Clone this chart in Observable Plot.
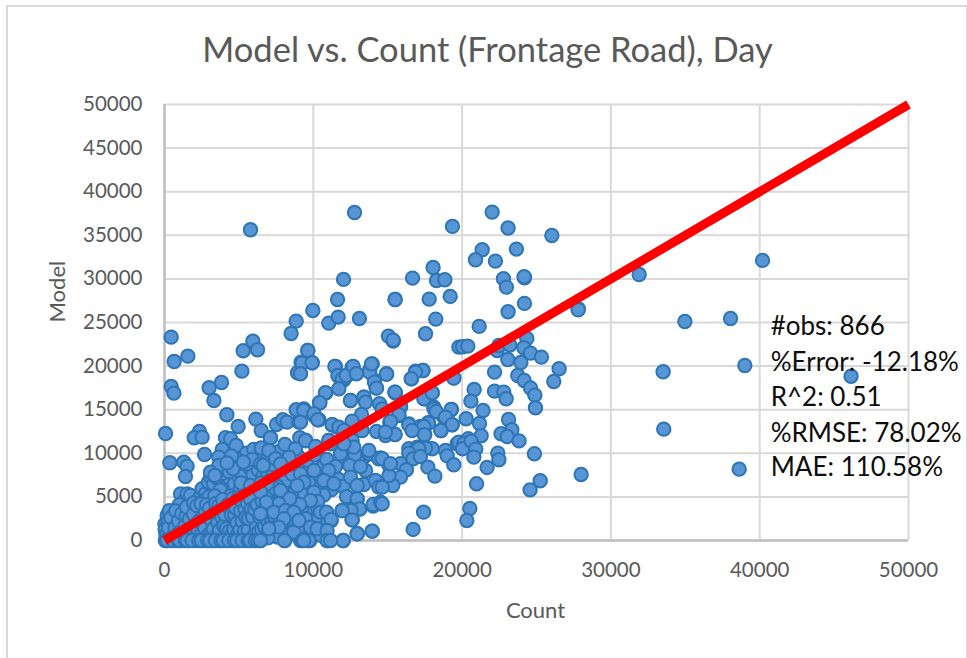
<!DOCTYPE html>
<html><head><meta charset="utf-8">
<script src="https://cdn.jsdelivr.net/npm/d3@7"></script>
<script src="https://cdn.jsdelivr.net/npm/@observablehq/plot@0.6"></script>
<style>
html,body{margin:0;padding:0;background:#fff;overflow:hidden}
#frame{position:absolute;left:6px;top:5px;width:958px;height:660px;border:2px solid #d9d9d9;box-sizing:content-box}
#chart{position:absolute;left:0;top:0}
svg{overflow:visible;display:block}
</style></head><body>
<div id="frame"></div><div id="chart"></div>
<script>
const chartTitle = "Model vs. Count (Frontage Road), Day";
const xLabel = "Count", yLabel = "Model";
const ticksX = [0,10000,20000,30000,40000,50000];
const ticksY = [0,5000,10000,15000,20000,25000,30000,35000,40000,45000,50000];
const stats = ["#obs: 866","%Error: -12.18%","R^2: 0.51","%RMSE: 78.02%","MAE: 110.58%"];
const statY = [24500,20400,16400,12300,8300];
const identity = [0,50000];

// [Count, Model] pairs
const farRight = [[31900,30500],[40190,32120],[34970,25120],[38040,25460],[33510,19350],[39000,20070],[46140,18840],[33550,12770],[38620,8180]];
const upperRight = [[22020,37660],[19350,36020],[23090,35830],[26030,34980],[23650,33420],[21350,33340],[20900,32190],[22240,32040],[16670,30090],[18050,31310],[18280,29820],[18840,29900],[22780,30010],[24190,30130],[24170,30240],[22980,29060],[15500,27640],[17790,27680],[19200,27990],[24190,27190],[23090,26230],[27800,26570],[27800,26460],[18230,25390],[21150,24550],[17540,23710],[15050,23440],[15370,22980],[20030,22220],[20380,22290]];
const middleRight = [[22360,21790],[22470,22370],[23210,22410],[24350,23170],[24150,22100],[24600,21490],[25330,21030],[23070,20760],[23950,20420],[26520,19690],[26160,18240],[23740,18930],[24170,18350],[24600,17480],[24890,16670],[24930,15220],[22180,19310],[20810,17320],[22180,17130],[22800,17020],[22960,16250],[20590,15980],[21410,14910],[23120,13880],[21170,13420],[20270,13960],[19260,15030],[18120,15100],[18260,14800],[18880,14150],[19330,13270],[18570,12620],[17740,13460],[17430,13080],[17470,12120],[16420,13270],[16640,12620],[15500,12160],[21280,12010],[23340,12700],[22620,12240],[23030,11930],[23830,11430],[24860,9940],[22400,10020],[22470,9260],[20410,11660],[20120,11090],[20030,10520],[20610,11400],[20920,10480],[20790,9560],[19000,9710],[19440,8680],[17540,10590],[17090,10520],[16420,10020],[16710,9370],[17200,9640],[17700,8410],[18170,7380],[21680,8380],[20970,6500],[25250,6850],[24570,5810],[28000,7570],[17410,3250],[16710,1270],[20520,3670],[20320,2300],[17430,16250],[17990,16940],[17360,19500],[16870,19310],[16580,18550],[14920,19080],[19440,18620],[15500,17020],[15860,15490],[15750,14420],[15190,13650],[14850,12430],[15080,8610],[15860,8800],[16260,8110],[15860,7270],[15340,6310],[14630,6120],[15080,7460],[14630,4210],[14630,9370],[15190,8800]];
const centre = [[9630,21790],[9250,20340],[9920,20380],[9140,19120],[11450,19960],[11650,18930],[11940,18540],[12210,18930],[12680,19960],[12900,19120],[13780,19310],[13910,20260],[14920,19120],[15370,22860],[19780,22180],[16870,19420],[17380,19500],[16600,18540],[11720,17400],[10820,16940],[10440,15790],[12500,16060],[13400,16440],[13510,15870],[14110,18160],[14250,17470],[15480,17010],[17990,16900],[17540,16250],[18100,15290],[18210,14800],[19290,15030],[18770,14150],[19330,13270],[19440,18660],[14450,15680],[14630,15100],[15860,15290],[15750,14340],[13240,14450],[12610,13690],[9360,14910],[10040,14530],[10300,13840],[9140,13570],[11270,13270],[11720,13000],[12050,12620],[13280,12620],[14250,12500],[15140,13570],[14850,12040],[15480,12160],[16420,13380],[16640,12690],[17720,13500],[17200,13080],[17490,12160],[18590,12620],[19670,11090],[11040,11470],[9480,11470],[10150,10780],[12610,11470],[12720,10710],[12050,11090],[13730,10320],[16420,10520],[16980,10710],[17540,10710],[17990,10520],[18880,10320],[19780,11280]];
const lowerMiddle = [[7120,11780],[7010,10320],[6450,8790],[8090,11010],[9090,11780],[9480,11470],[8800,10510],[8360,9560],[7460,9370],[7800,8790],[6630,8600],[10260,10510],[11040,11470],[11830,9940],[12790,9860],[12390,11470],[13730,9940],[14400,9370],[11040,8030],[9700,6620],[10040,8030],[9140,7650],[9360,6690],[10710,6880],[11380,6500],[8920,6310],[7800,5740],[6900,6500],[6450,5550],[10040,5550],[12450,8600],[13510,8030],[13170,8490],[12500,7270],[13400,6420],[12950,6310],[14180,6880],[14400,6120],[12230,5050],[12950,4780],[14020,4130],[14520,4400],[13100,3630],[12540,3440],[11940,3440],[12610,2370],[10300,4470],[9810,4590],[9090,4130],[8420,4780],[7680,4210],[6850,4400],[6450,3060],[7350,3250],[8130,3440],[8690,3250],[10480,3250],[10890,3250],[11200,2410],[9480,2490],[9810,1530],[10260,1340],[10930,1150],[8690,960],[8020,2490],[7680,1530],[7010,1340],[9030,2300],[12950,770],[13960,1070],[6450,0],[8060,0],[9250,0],[9700,0],[10930,0],[12010,0],[9360,0],[11160,0]];
const middleExtra = [[7300,8700],[7600,6200],[8300,8100],[8600,7600],[9300,8500],[9600,9200],[9950,7200],[10400,6200],[10600,8400],[10900,9300],[11200,5800],[11500,8500],[11700,7000],[12000,6200],[12200,9500],[10100,9800],[9000,9600],[8500,8800],[6900,9700],[7700,10200],[6500,10600],[5900,9300],[5300,9000],[4500,9700],[4200,8900],[7000,5700],[7400,6000],[8300,4000],[8800,5700],[9400,5300],[9700,3800],[9950,4600],[10300,3700],[10600,2300],[10100,2200],[9200,3400],[9000,1300],[8300,600],[7600,400],[6950,300],[10700,5200],[9500,300],[10500,600]];
const upperLeft = [[450,23320],[650,20530],[1570,21140],[450,17670],[630,16900],[70,12270],[360,8910],[1300,8990],[1520,8530],[1410,7340],[2350,12500],[2000,11780],[2530,11850],[2690,9870],[3000,17510],[3830,18120],[3320,16060],[4190,14420],[4950,13080],[5200,19420],[5290,21760],[5940,22860],[6250,21870],[6140,13920],[6500,12620],[7120,11780],[4100,11780],[4440,11660],[4820,10900],[3880,10440],[3650,9560],[3650,8600],[3090,7840],[3380,7460],[5510,10020],[6000,10440],[4880,9290],[5560,8800],[4610,8220],[7010,10250],[8130,10820],[8800,10520],[8130,9940],[7350,9180],[6790,8800],[7530,13310],[7950,13840],[8240,13570],[9030,13570],[8850,14990],[9360,15100],[9970,26380],[8850,25160],[8510,23740],[11040,24930],[11670,25620],[13100,25460],[11630,27640],[15500,27640],[12030,29940],[12770,37620],[5780,35640],[9630,21790],[9180,20460],[9920,20380],[8940,19230],[10820,16900],[10420,15790],[10040,14340],[10370,13840],[11270,13270],[11600,13000],[12500,16060],[13400,16440],[11490,19960],[11720,18810],[12050,18430],[12280,18930],[12610,19880],[13960,20260],[13800,19580],[14920,19080],[14110,18350],[14220,17510],[15520,16900],[9140,11660],[9480,11470],[10260,10520],[11160,11090],[11830,9940],[12840,9940],[13400,9560],[13780,9940],[14520,9480],[11270,7270],[10040,8030],[9700,6580],[9140,6690],[12280,4970],[12950,4710],[14520,4210],[14020,3940],[13130,3600],[12570,3370],[11940,3440],[12610,2370],[11200,2300],[12950,770],[13960,1070]];
const axisRow = [[70,0],[400,0],[740,0],[1190,0],[1640,0],[2080,0],[2640,0],[3200,0],[3650,0],[4100,0],[4550,0],[5000,0],[5440,0],[5890,0],[6450,0],[8090,0],[9140,0],[9590,0],[9770,0],[10930,0],[11040,0],[12010,0],[180,0],[560,0],[900,0],[1020,0],[1400,0],[1520,0],[1860,0],[2300,0],[2480,0],[2900,0],[3050,0],[3420,0],[3800,0],[3960,0],[4320,0],[4700,0],[4860,0],[5220,0],[5620,0],[5740,0],[6100,0],[6280,0]];
const dense = [[60,0],[120,130],[200,420],[90,760],[350,1050],[30,1900],[180,2870],[320,3420],[40,1300],[520,1700],[740,2490],[610,620],[820,1180],[980,300],[1050,1720],[1180,2650],[1300,2100],[1420,1250],[1500,480],[1620,3100],[1700,4020],[1080,5350],[1190,4300],[1400,4700],[1530,5350],[1750,5180],[1850,3650],[1900,2300],[2000,1530],[2100,820],[2220,3150],[2300,4500],[2410,5010],[2530,5930],[2640,3800],[2750,5350],[2750,580],[2800,2150],[2900,1200],[3010,4250],[3120,3400],[3210,5650],[3300,2500],[3400,6200],[3480,1500],[3560,4700],[3650,3300],[3720,6880],[3800,2100],[3880,5200],[3950,800],[4050,3950],[4130,6100],[4200,4650],[4300,2800],[4380,7100],[4470,1800],[4540,5500],[4620,3500],[4700,6500],[4780,950],[4860,4400],[4930,7500],[5020,2500],[5100,5900],[5180,3200],[5260,1500],[5340,6900],[5420,4900],[5500,600],[5580,3750],[5660,7700],[5740,2100],[5820,5300],[5900,4100],[5980,1200],[6060,6300],[6140,3000],[6220,7100],[6300,4600],[6380,1800],[6440,5800],[2950,6700],[3100,7300],[3300,6500],[3500,7200],[3900,7700],[4050,8200],[4350,7900],[4600,8600],[4950,8300],[5250,7400],[5700,8400],[5950,7600],[6300,8100],[6600,7300],[6750,6700],[6900,7900],[7100,6900],[7350,7600],[7600,7000],[7850,7400],[7100,5100],[6700,5000],[6550,3900],[6900,2800],[7250,3800],[7500,5000],[7800,2700],[8200,5100],[8450,6200],[8700,6500],[8950,7100],[8100,6800],[7400,1800],[8600,1700],[6600,2000],[6200,600],[6700,900],[7200,700],[250,2200],[640,3000],[880,3700],[1000,4100],[1260,3450],[1340,600],[1580,1900],[1780,1000],[2160,2600],[2380,1700],[2480,3450],[2560,1100],[2680,4600],[2860,3000],[2980,5000],[3060,1900],[3240,4400],[3420,3700],[3600,2800],[3740,5800],[3840,1150],[3980,4400],[4120,2200],[4240,3300],[4420,5100],[4560,2500],[4680,4200],[4760,1600],[5060,3900],[5140,6600],[5300,2900],[5480,2000],[5540,5100],[5700,3300],[5780,6300],[5860,1500],[6000,4800],[6100,2300],[6280,5500],[6360,3400],[6480,6600]];
const denseExtra = [[130,700],[270,1450],[430,2600],[470,300],[710,1500],[760,3400],[900,780],[940,2200],[1120,1050],[1160,3100],[1240,220],[1370,1650],[1450,2800],[1480,3850],[1560,1020],[1680,2450],[1720,560],[1810,1450],[1950,3000],[1960,4300],[2040,380],[2140,1850],[2180,4000],[2260,1150],[2330,2250],[2440,620],[2460,4200],[2600,1750],[2620,2900],[2700,1400],[2760,3300],[2830,4100],[2940,650],[3000,2650],[3030,3700],[3150,950],[3170,2250],[3280,1350],[3340,3100],[3380,5100],[3450,4250],[3530,550],[3590,2050],[3660,4000],[3700,1200],[3770,3500],[3850,2700],[3920,4700],[3990,1650],[4040,3000],[4080,520],[4150,1350],[4270,4100],[4340,1050],[4400,3700],[4500,2950],[4510,650],[4590,4800],[4650,1250],[4730,2950],[4800,3700],[4880,2000],[4920,700],[4980,4900],[5080,1250],[5120,3400],[5200,4500],[5230,2200],[5370,1050],[5410,3600],[5470,2650],[5560,4300],[5620,1200],[5660,2500],[5760,4800],[5840,3600],[5920,2700],[6030,600],[6060,3600],[6180,1500],[6240,4100],[6320,1000],[6400,2700],[6520,1300],[6560,4500],[6640,3200],[6720,1600],[6780,3700],[6860,500],[6960,2100],[7020,4100],[7080,1100],[7170,3100],[7220,2300],[7300,4500],[7380,2800],[7460,700],[7560,3400],[7600,1400],[7700,4500],[7760,2200],[7880,3500],[7930,900],[8000,4200],[8100,1800],[8180,3200],[8300,1200],[8380,2300],[8450,4300],[8560,2800],[8650,4200],[8780,2000],[8840,3600],[8920,1400],[9000,5200]];

const points = [...dense,...denseExtra,...axisRow,...upperLeft,...middleExtra,...lowerMiddle,...centre,...middleRight,...upperRight,...farRight];

const textFont = "Lato";
const plot = Plot.plot({
  width:967, height:658,
  marginLeft:164, marginRight:59, marginTop:104, marginBottom:118,
  style:{fontFamily:textFont, background:"transparent"},
  x:{domain:[0,50000]}, y:{domain:[0,50000]},
  marks:[
    Plot.gridX(ticksX,{stroke:"#d9d9d9",strokeOpacity:1,strokeWidth:2}),
    Plot.gridY(ticksY,{stroke:"#d9d9d9",strokeOpacity:1,strokeWidth:2}),
    Plot.ruleX([0],{stroke:"#bfbfbf",strokeWidth:2.5}),
    Plot.ruleY([0],{stroke:"#bfbfbf",strokeWidth:2.5}),
    Plot.axisX({ticks:ticksX,tickSize:0,tickPadding:22,tickFormat:d=>String(d),fontSize:20.5,fill:"#595959",label:null}),
    Plot.axisY({ticks:ticksY,tickSize:0,tickPadding:22,tickFormat:d=>String(d),fontSize:20.5,fill:"#595959",label:null}),
    Plot.dot(points,{x:d=>d[0],y:d=>d[1],r:6.7,fill:"#5795d4",stroke:"#2e75b6",strokeWidth:2}),
    Plot.line(identity.map(v=>[v,v]),{x:d=>d[0],y:d=>d[1],stroke:"#ff0000",strokeWidth:9,strokeLinecap:"butt"}),
    Plot.text(stats,{x:()=>40740,y:(d,i)=>statY[i],text:d=>d,textAnchor:"start",fontSize:26,fill:"#0d0d0d"}),
    Plot.text([chartTitle],{frameAnchor:"top",dx:-49,dy:-54,fontSize:34.5,fill:"#595959",lineAnchor:"middle"}),
    Plot.text([xLabel],{frameAnchor:"bottom",dx:-1,dy:70,fontSize:22,fill:"#595959",lineAnchor:"middle"}),
    Plot.text([yLabel],{frameAnchor:"left",dx:-107,dy:0,rotate:-90,fontSize:22,fill:"#595959"})
  ]
});
document.getElementById("chart").append(plot);
</script>
</body></html>
